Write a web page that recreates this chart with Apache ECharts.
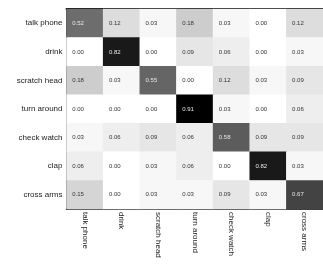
<!DOCTYPE html>
<html>
<head>
<meta charset="utf-8">
<script src="https://cdn.jsdelivr.net/npm/echarts@6/dist/echarts.min.js"></script>
<style>html,body{margin:0;padding:0;background:#fff;}#c{width:323px;height:266px;}</style>
</head>
<body>
<div id="c"></div>
<script>
const categories = ['talk phone','drink','scratch head','turn around','check watch','clap','cross arms'];
const row0 = [0.52,0.12,0.03,0.18,0.03,0.00,0.12];
const row1 = [0.00,0.82,0.00,0.09,0.06,0.00,0.03];
const row2 = [0.18,0.03,0.55,0.00,0.12,0.03,0.09];
const row3 = [0.00,0.00,0.00,0.91,0.03,0.00,0.06];
const row4 = [0.03,0.06,0.09,0.06,0.58,0.09,0.09];
const row5 = [0.06,0.00,0.03,0.06,0.00,0.82,0.03];
const row6 = [0.15,0.00,0.03,0.03,0.09,0.03,0.67];
const rows = [row0,row1,row2,row3,row4,row5,row6];

const data = [];
rows.forEach((r, yi) => r.forEach((v, xi) => {
  data.push({value:[xi, yi, v], label:{color: v > 0.5 ? '#e8e8e8' : '#333'}});
}));

const font = 'Liberation Sans, Arial, Helvetica, sans-serif';
const chart = echarts.init(document.getElementById('c'), null, {renderer:'canvas'});
chart.setOption({
  animation:false,
  backgroundColor:'#fff',
  grid:{left:66.5, top:9, width:265, height:200},
  xAxis:[{
    type:'category', data:categories, position:'bottom',
    axisLine:{lineStyle:{color:'#000', width:1.5}},
    axisTick:{alignWithLabel:true, inside:true, length:3, lineStyle:{color:'#000'}},
    axisLabel:{rotate:-90, margin:3, fontSize:8, fontFamily:font, color:'#222', interval:0},
    splitLine:{show:false}
  },{
    type:'category', data:categories, position:'top',
    axisLine:{lineStyle:{color:'#111', width:2}},
    axisTick:{alignWithLabel:true, inside:true, length:2, lineStyle:{color:'#000'}},
    axisLabel:{show:false},
    splitLine:{show:false}
  }],
  yAxis:{
    type:'category', data:categories, inverse:true,
    axisLine:{lineStyle:{color:'#000', width:1.5}},
    axisTick:{alignWithLabel:true, inside:false, length:3, lineStyle:{color:'#555'}},
    axisLabel:{margin:4, fontSize:8, fontFamily:font, color:'#222', interval:0},
    splitLine:{show:false}
  },
  visualMap:{show:false, type:'continuous', min:0, max:0.91, dimension:2, inRange:{color:['#ffffff','#000000']}},
  series:[{
    type:'heatmap', data:data,
    label:{show:true, position:'insideLeft', distance:6, fontSize:6, fontFamily:font,
      formatter:p => p.value[2].toFixed(2)},
    emphasis:{disabled:true}
  }]
});
</script>
</body>
</html>
